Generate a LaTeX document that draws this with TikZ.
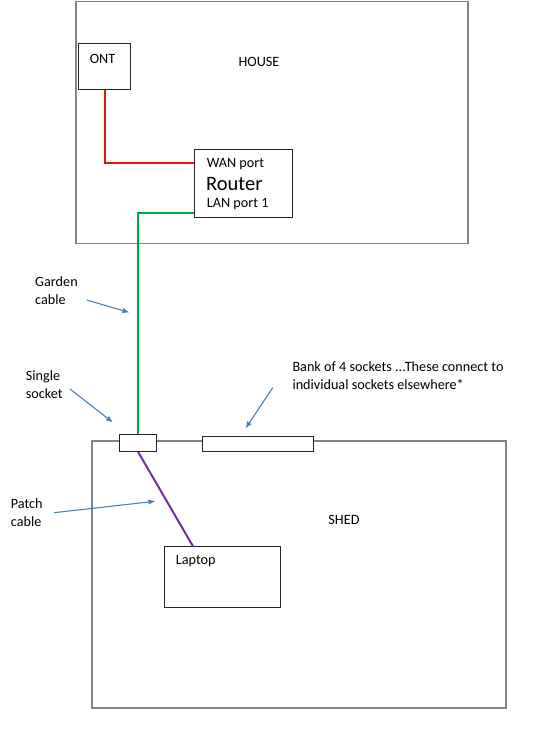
\documentclass[tikz,border=0pt]{standalone}
\usepackage{fontspec}
\setmainfont{Carlito}
\usetikzlibrary{arrows.meta}
\definecolor{areagray}{RGB}{128,134,145}
\definecolor{arrowblue}{RGB}{74,126,187}
\definecolor{cablered}{RGB}{226,20,20}
\definecolor{cablegreen}{RGB}{0,166,80}
\definecolor{cablepurple}{RGB}{112,48,160}
\begin{document}
\begin{tikzpicture}[x=1pt,y=-1pt,
  box/.style={draw=black!85, line width=1.1pt, fill=white, inner sep=0pt, anchor=north west},
  area/.style={draw=areagray, line width=1.6pt, inner sep=0pt, anchor=north west},
  lbl/.style={inner sep=0pt, font=\fontsize{14.2}{17.6}\selectfont},
  note/.style={lbl, align=left, anchor=west},
  pointer/.style={draw=arrowblue, line width=1.1pt, -{Latex[length=7pt,width=5.5pt]}},
  cable/.style={line width=2pt}]
\useasboundingbox (0,0) rectangle (557,737);

% areas
\node[area, minimum width=392pt, minimum height=242pt] (house) at (75,0.8) {};
\node[area, minimum width=414pt, minimum height=267.3pt] (shed) at (91,440) {};

% devices
\node[box, minimum width=51.5pt, minimum height=46pt] (ont) at (78.3,43.3) {};
\node[box, minimum width=97.5pt, minimum height=68.3pt] (router) at (194,149) {};
\node[box, minimum width=36.4pt, minimum height=16.4pt] (socket) at (119.3,434.3) {};
\node[box, minimum width=111.5pt, minimum height=15.3pt] (bank) at (201.5,435.7) {};
\node[box, minimum width=116pt, minimum height=61pt] (laptop) at (164.3,546.3) {};

% texts
\node[lbl] (ontlbl) at (102.5,59.3) {ONT};
\node[lbl] (houselbl) at (259,62) {HOUSE};
\node[lbl] (shedlbl) at (344,520) {SHED};
\node[lbl, anchor=west] (wanlbl) at (206.7,164) {WAN port};
\node[inner sep=0pt, anchor=west, font=\fontsize{20.5}{24}\selectfont] (routerlbl) at (206,184.3) {Router};
\node[lbl, anchor=west] (lanlbl) at (206.7,204.3) {LAN port 1};
\node[lbl, anchor=west] (laptoplbl) at (175.7,560.7) {Laptop};

\node[note] (gardenlbl) at (35,290.4) {Garden\\cable};
\node[note] (singlelbl) at (25.7,384.4) {Single\\socket};
\node[note] (banklbl) at (292.3,375.5) {Bank of 4 sockets ...These connect to\\individual sockets elsewhere*};
\node[note] (patchlbl) at (10.7,512.4) {Patch\\cable};

% cables
\draw[cable, cablered] (ont.south) |- ([yshift=-13.7pt]router.north west);
\draw[cable, cablegreen] ([yshift=5.3pt]router.south west) -| (socket.north);
\draw[cable, cablepurple] (socket.south) -- ([xshift=28.7pt]laptop.north west);

% pointers
\coordinate (gardentail) at (86.7,300);
\coordinate (gardenhead) at (129.5,312.5);
\coordinate (singletail) at (70,389);
\coordinate (singlehead) at (113,422.5);
\coordinate (banktail) at (272.7,387.7);
\coordinate (bankhead) at (245.5,428.5);
\coordinate (patchtail) at (54,512.7);
\coordinate (patchhead) at (155.5,501.2);
\draw[pointer] (gardentail) -- (gardenhead);
\draw[pointer] (singletail) -- (singlehead);
\draw[pointer] (banktail) -- (bankhead);
\draw[pointer] (patchtail) -- (patchhead);
\end{tikzpicture}
\end{document}
